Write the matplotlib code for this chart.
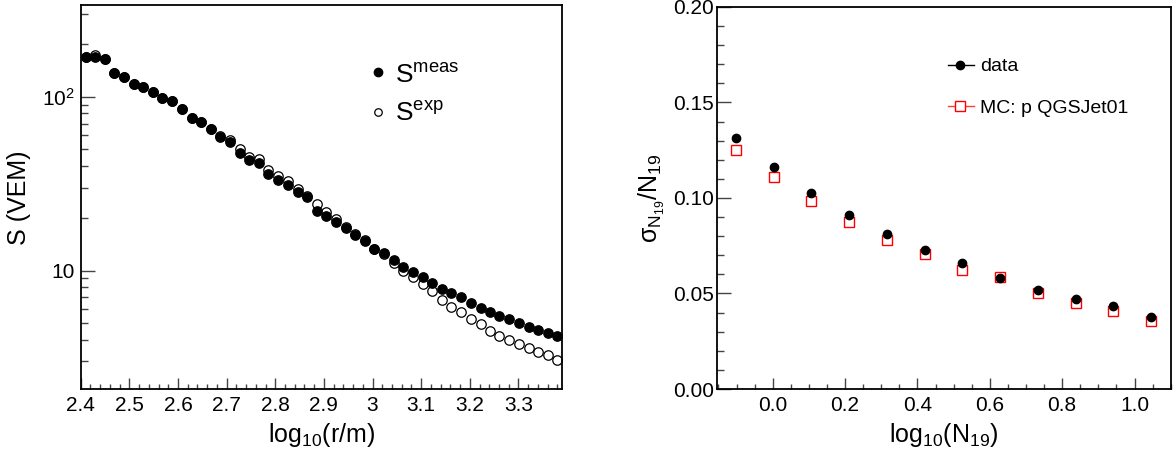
import numpy as np
import matplotlib
matplotlib.use("Agg")
from matplotlib import pyplot as plt
from matplotlib.ticker import FixedLocator, MultipleLocator, LogLocator, NullFormatter

plt.rcParams['font.family'] = ['Liberation Sans', 'DejaVu Sans']
plt.rcParams['mathtext.fontset'] = 'custom'
plt.rcParams['mathtext.rm'] = 'Liberation Sans'
plt.rcParams['mathtext.it'] = 'Liberation Sans:italic'

# left panel: signal vs distance
log_r = [2.410, 2.430, 2.450, 2.469, 2.489, 2.509, 2.529, 2.549, 2.568, 2.588,
         2.608, 2.628, 2.648, 2.667, 2.687, 2.707, 2.727, 2.747, 2.766, 2.786,
         2.806, 2.826, 2.846, 2.865, 2.885, 2.905, 2.925, 2.945, 2.964, 2.984,
         3.004, 3.024, 3.044, 3.063, 3.083, 3.103, 3.123, 3.143, 3.162, 3.182,
         3.202, 3.222, 3.242, 3.261, 3.281, 3.301, 3.321, 3.341, 3.360, 3.380]
s_meas = [170, 168, 165, 137, 129, 118, 113, 106, 98.7, 94.8,
          85.0, 75.4, 71.1, 64.8, 58.6, 54.7, 47.5, 43.1, 41.8, 36.0,
          33.0, 30.9, 28.2, 26.6, 22.1, 20.6, 19.1, 17.6, 16.0, 14.8,
          13.3, 12.6, 11.5, 10.5, 9.80, 9.16, 8.46, 7.81, 7.41, 7.00,
          6.49, 6.13, 5.81, 5.51, 5.25, 5.02, 4.72, 4.56, 4.40, 4.18]
s_exp = [170, 174, 165, 137, 129, 118, 113, 106, 98.7, 94.8,
         85.0, 75.4, 71.1, 64.8, 59.2, 56.0, 49.8, 45.2, 43.6, 37.9,
         35.0, 32.7, 29.6, 26.9, 24.2, 21.6, 19.9, 17.8, 16.3, 14.9,
         13.3, 12.4, 11.0, 10.0, 9.16, 8.35, 7.64, 6.78, 6.21, 5.74,
         5.25, 4.94, 4.49, 4.23, 4.00, 3.79, 3.60, 3.41, 3.26, 3.07]

# right panel: relative fluctuation of N19
log_n19 = [-0.101, 0.003, 0.107, 0.212, 0.316, 0.420, 0.524, 0.628, 0.733, 0.837, 0.941, 1.045]
sig_data = [0.1313, 0.1164, 0.1028, 0.0909, 0.0813, 0.0729, 0.0657, 0.0582, 0.0516, 0.0472, 0.0434, 0.0378]
sig_mc = [0.1252, 0.1110, 0.0982, 0.0876, 0.0780, 0.0706, 0.0621, 0.0586, 0.0505, 0.0449, 0.0406, 0.0357]

fig = plt.figure(figsize=(11.76, 4.59), dpi=100)
ax1 = fig.add_axes([0.0686, 0.1519, 0.4095, 0.8365])
ax2 = fig.add_axes([0.6094, 0.1525, 0.3861, 0.8325])


def root_style(ax):
    for sp in ax.spines.values():
        sp.set_linewidth(1.3)
    ax.tick_params(which='both', direction='in', top=False, right=False,
                   labelsize=15, color='#444444', width=1.0)
    ax.tick_params(axis='y', which='major', length=10, pad=4)
    ax.tick_params(axis='y', which='minor', length=4.8)
    ax.tick_params(axis='x', which='major', length=8, pad=5)
    ax.tick_params(axis='x', which='minor', length=3.8)


# left
ax1.plot(log_r, s_exp, 'o', ms=6.8, mfc='white', mec='black', mew=0.9, zorder=2)
ax1.plot(log_r, s_meas, 'o', ms=6.8, mfc='black', mec='black', mew=0.9, zorder=3)
ax1.set_yscale('log')
ax1.set_xlim(2.4, 3.39)
ax1.set_ylim(2.076, 335)
ax1.yaxis.set_major_locator(FixedLocator([10, 100]))
ax1.set_yticklabels(['10', r'$10^2$'])
ax1.yaxis.set_minor_locator(LogLocator(base=10, subs=np.arange(2, 10)))
ax1.yaxis.set_minor_formatter(NullFormatter())
ax1.xaxis.set_minor_locator(MultipleLocator(0.02))
ax1.set_xticks([2.4, 2.5, 2.6, 2.7, 2.8, 2.9, 3.0, 3.1, 3.2, 3.3])
ax1.set_xticklabels(['2.4', '2.5', '2.6', '2.7', '2.8', '2.9', '3', '3.1', '3.2', '3.3'])
root_style(ax1)
ax1.set_xlabel(r'$\mathrm{log}_{10}\mathrm{(r/m)}$', fontsize=18, labelpad=4)
ax1.set_ylabel('S (VEM)', fontsize=18, labelpad=8)

# left legend
ax1.plot([0.617], [0.8275], 'o', ms=6.0, mfc='black', mec='black',
         transform=ax1.transAxes, clip_on=False)
ax1.plot([0.617], [0.723], 'o', ms=5.4, mfc='white', mec='black', mew=0.9,
         transform=ax1.transAxes, clip_on=False)
ax1.text(0.652, 0.797, r'$\mathrm{S}^{\mathrm{meas}}$', fontsize=19,
         transform=ax1.transAxes, va='baseline', ha='left')
ax1.text(0.652, 0.699, r'$\mathrm{S}^{\mathrm{exp}}$', fontsize=19,
         transform=ax1.transAxes, va='baseline', ha='left')

# right
ax2.plot(log_n19, sig_mc, 's', ms=6.6, mfc='none', mec='red', mew=1.0, zorder=2)
ax2.plot(log_n19, sig_data, 'o', ms=6.0, mfc='black', mec='black', zorder=3)
ax2.set_xlim(-0.155, 1.1)
ax2.set_ylim(0.0, 0.2)
ax2.xaxis.set_minor_locator(MultipleLocator(0.05))
ax2.yaxis.set_minor_locator(MultipleLocator(0.01))
ax2.set_xticks([0.0, 0.2, 0.4, 0.6, 0.8, 1.0])
ax2.set_xticklabels(['0.0', '0.2', '0.4', '0.6', '0.8', '1.0'])
ax2.set_yticks([0.0, 0.05, 0.10, 0.15, 0.20])
ax2.set_yticklabels(['0.00', '0.05', '0.10', '0.15', '0.20'])
root_style(ax2)
ax2.tick_params(axis='y', which='major', pad=2)
ax2.set_xlabel(r'$\mathrm{log}_{10}\mathrm{(N}_{19}\mathrm{)}$', fontsize=18, labelpad=4)
ax2.set_ylabel(r'$\mathrm{\sigma}_{\mathrm{N}_{19}}\mathrm{/N}_{19}$', fontsize=18, labelpad=4)

# right legend
ax2.plot([0.509, 0.567], [0.848, 0.848], '-', color='black', lw=1.0,
         transform=ax2.transAxes)
ax2.plot([0.536], [0.848], 'o', ms=6.0, mfc='black', mec='black',
         transform=ax2.transAxes)
ax2.plot([0.509, 0.567], [0.7416, 0.7416], '-', color='#ff4040', lw=1.0,
         transform=ax2.transAxes)
ax2.plot([0.536], [0.7416], 's', ms=6.6, mfc='white', mec='red', mew=1.0,
         transform=ax2.transAxes)
ax2.text(0.58, 0.831, 'data', fontsize=14, transform=ax2.transAxes,
         va='baseline', ha='left')
ax2.text(0.58, 0.722, 'MC: p QGSJet01', fontsize=14, transform=ax2.transAxes,
         va='baseline', ha='left')

fig.savefig('out.png', dpi=100)
